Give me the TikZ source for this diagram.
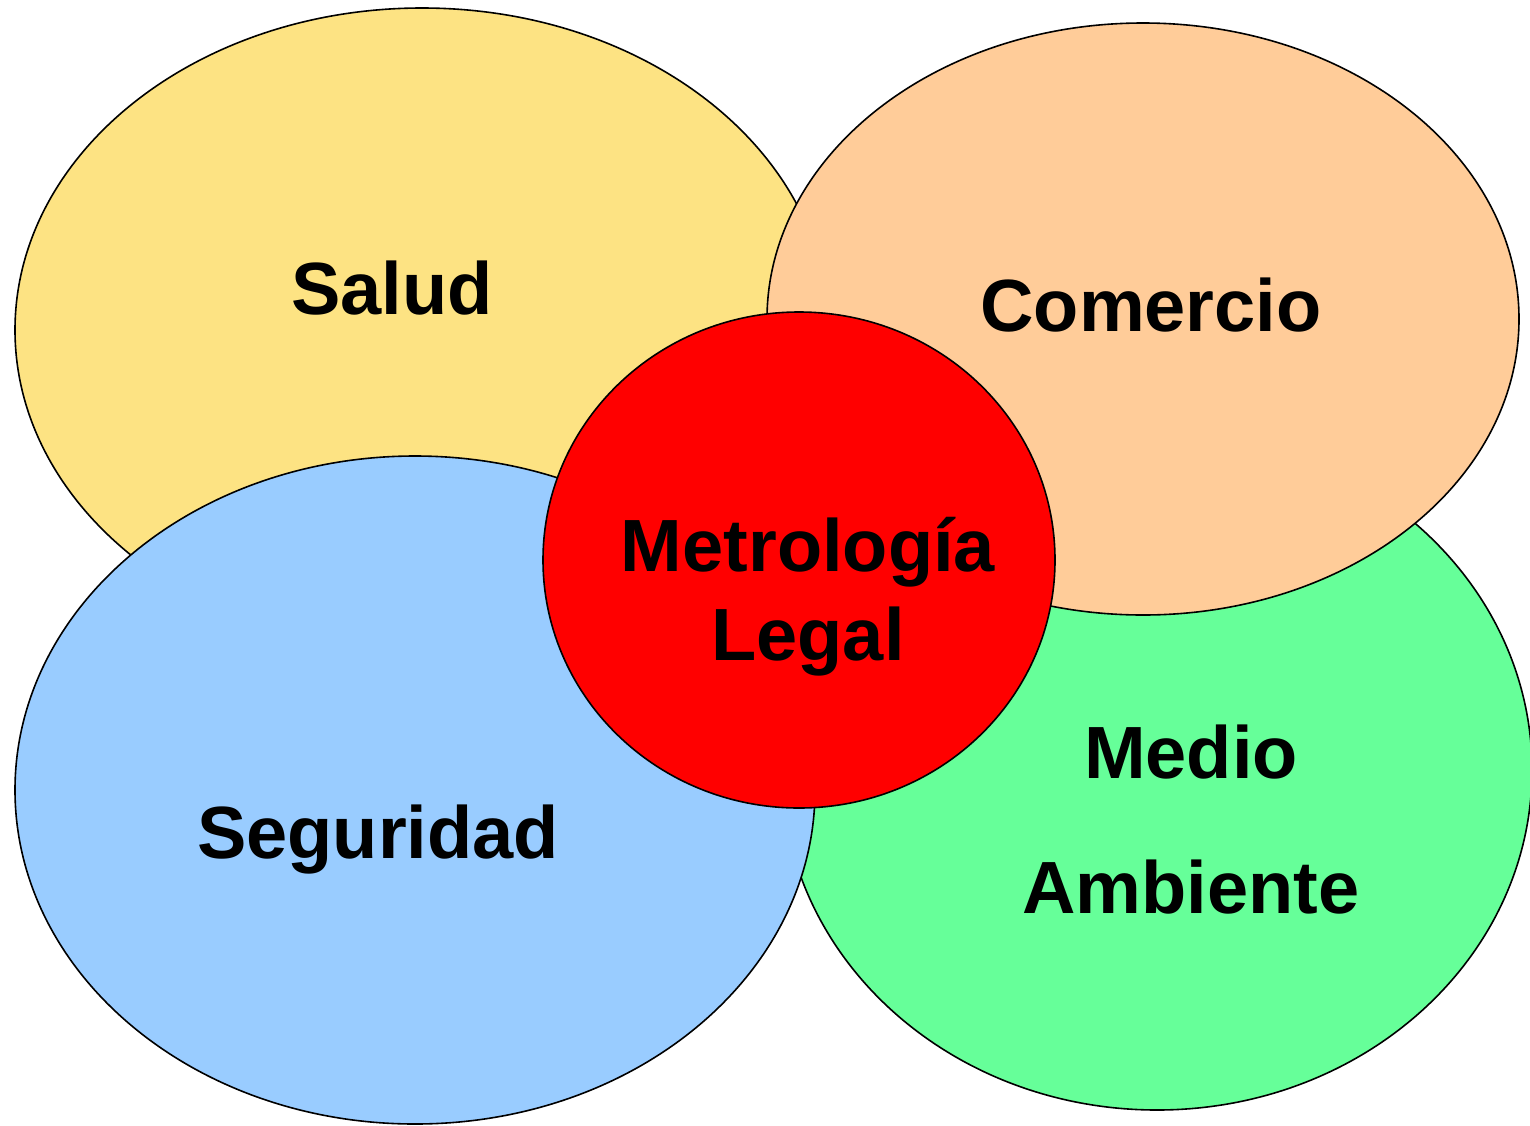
\documentclass[tikz,border=0pt]{standalone}
\usepackage{fontspec}
\setmainfont{Liberation Sans}
\usetikzlibrary{shapes}

\definecolor{saludcol}{RGB}{253,227,131}
\definecolor{comerciocol}{RGB}{255,204,153}
\definecolor{mediocol}{RGB}{102,255,153}
\definecolor{seguridadcol}{RGB}{153,204,255}
\definecolor{metrocol}{RGB}{255,0,0}

\tikzset{
    area/.style={ellipse,draw=black,line width=0.8pt,inner sep=0pt,outer sep=0pt},
    areatext/.style={anchor=base,inner sep=0pt,font=\fontsize{37}{44.5}\selectfont\bfseries,align=center}
}

\begin{document}
\begin{tikzpicture}[x=0.5pt,y=-0.5pt]
    \useasboundingbox (0,0) rectangle (1530,1125);
    %%
    % Node: Salud
    \node[area,fill=saludcol,minimum width=407pt,minimum height=322pt] (salud) at (422,330) {};
    % Node: Medio Ambiente
    \node[area,fill=mediocol,minimum width=375pt,minimum height=340pt] (medio) at (1157,770) {};
    % Node: Comercio
    \node[area,fill=comerciocol,minimum width=376pt,minimum height=296pt] (comercio) at (1143,319) {};
    % Node: Seguridad
    \node[area,fill=seguridadcol,minimum width=400pt,minimum height=334pt] (seguridad) at (415,790) {};
    % Node: Metrologia Legal
    \node[area,fill=metrocol,minimum width=256pt,minimum height=248pt] (metro) at (799,560) {};
    %
    \node[areatext] (saludtext) at (392,314) {Salud};
    \node[areatext] (comerciotext) at (1151,331) {Comercio};
    \node[areatext] (seguridadtext) at (378,858) {Seguridad};
    \node[areatext] (metrotext) at (808,660) {Metrología\\Legal};
    \node[areatext,font=\fontsize{37}{67.5}\selectfont\bfseries] (mediotext) at (1191,913) {Medio\\Ambiente};
    %
\end{tikzpicture}
\end{document}
